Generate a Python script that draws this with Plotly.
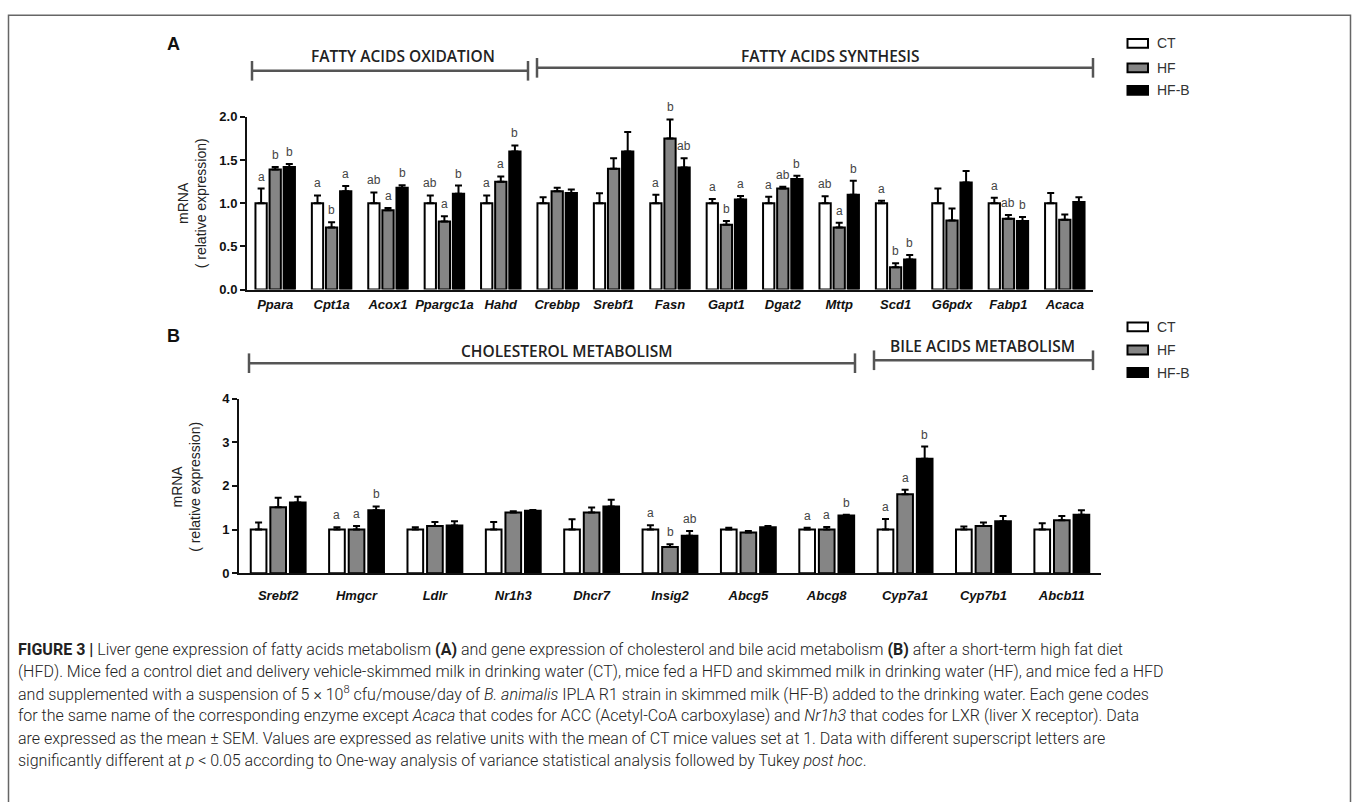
import plotly.graph_objects as go

# ---------------- data ----------------
series_names = ["CT", "HF", "HF-B"]

genes_A = ["Ppara", "Cpt1a", "Acox1", "Ppargc1a", "Hahd", "Crebbp", "Srebf1", "Fasn",
           "Gapt1", "Dgat2", "Mttp", "Scd1", "G6pdx", "Fabp1", "Acaca"]
ct_A = [1.0, 1.0, 1.0, 1.0, 1.0, 1.0, 1.0, 1.0, 1.0, 1.0, 1.0, 1.0, 1.0, 1.0, 1.0]
ct_A_err = [0.17, 0.09, 0.125, 0.09, 0.09, 0.07, 0.115, 0.10, 0.05, 0.075, 0.08, 0.03, 0.17, 0.065, 0.12]
hf_A = [1.39, 0.72, 0.92, 0.79, 1.25, 1.14, 1.40, 1.75, 0.75, 1.17, 0.72, 0.26, 0.80, 0.82, 0.81]
hf_A_err = [0.03, 0.06, 0.025, 0.06, 0.06, 0.04, 0.12, 0.22, 0.045, 0.02, 0.055, 0.045, 0.14, 0.045, 0.06]
hfb_A = [1.42, 1.14, 1.18, 1.11, 1.60, 1.12, 1.60, 1.415, 1.045, 1.28, 1.10, 0.35, 1.24, 0.795, 1.015]
hfb_A_err = [0.035, 0.06, 0.03, 0.095, 0.07, 0.04, 0.225, 0.105, 0.04, 0.04, 0.16, 0.05, 0.135, 0.045, 0.055]
ct_A_let = ["a", "a", "ab", "ab", "a", "", "", "a", "a", "a", "ab", "a", "", "a", ""]
hf_A_let = ["b", "b", "a", "a", "a", "", "", "b", "b", "ab", "a", "b", "", "ab", ""]
hfb_A_let = ["b", "a", "b", "b", "b", "", "", "ab", "a", "b", "b", "b", "", "b", ""]

genes_B = ["Srebf2", "Hmgcr", "Ldlr", "Nr1h3", "Dhcr7", "Insig2", "Abcg5", "Abcg8",
           "Cyp7a1", "Cyp7b1", "Abcb11"]
ct_B = [1.0, 1.0, 1.0, 1.0, 1.0, 1.0, 1.0, 1.0, 1.0, 1.0, 1.0]
ct_B_err = [0.16, 0.05, 0.05, 0.175, 0.235, 0.10, 0.04, 0.04, 0.24, 0.07, 0.145]
hf_B = [1.51, 1.0, 1.08, 1.39, 1.39, 0.60, 0.93, 1.0, 1.81, 1.08, 1.21]
hf_B_err = [0.22, 0.08, 0.09, 0.03, 0.115, 0.065, 0.035, 0.06, 0.10, 0.08, 0.10]
hfb_B = [1.62, 1.44, 1.09, 1.43, 1.53, 0.855, 1.055, 1.32, 2.62, 1.19, 1.34]
hfb_B_err = [0.13, 0.09, 0.10, 0.02, 0.155, 0.11, 0.025, 0.02, 0.28, 0.12, 0.10]
ct_B_let = ["", "a", "", "", "", "a", "", "a", "a", "", ""]
hf_B_let = ["", "a", "", "", "", "b", "", "a", "a", "", ""]
hfb_B_let = ["", "b", "", "", "", "ab", "", "b", "b", "", ""]

section_A = ["FATTY ACIDS OXIDATION", "FATTY ACIDS SYNTHESIS"]
section_B = ["CHOLESTEROL METABOLISM", "BILE ACIDS METABOLISM"]
yticks_A = [0.0, 0.5, 1.0, 1.5, 2.0]
yticks_B = [0, 1, 2, 3, 4]

caption_lines = [
    "<b>FIGURE 3 |</b> Liver gene expression of fatty acids metabolism <b>(A)</b> and gene expression of cholesterol and bile acid metabolism <b>(B)</b> after a short-term high fat diet",
    "(HFD). Mice fed a control diet and delivery vehicle-skimmed milk in drinking water (CT), mice fed a HFD and skimmed milk in drinking water (HF), and mice fed a HFD",
    "and supplemented with a suspension of 5 \u00d7 10<sup>8</sup> cfu/mouse/day of <i>B. animalis</i> IPLA R1 strain in skimmed milk (HF-B) added to the drinking water. Each gene codes",
    "for the same name of the corresponding enzyme except <i>Acaca</i> that codes for ACC (Acetyl-CoA carboxylase) and <i>Nr1h3</i> that codes for LXR (liver X receptor). Data",
    "are expressed as the mean \u00b1 SEM. Values are expressed as relative units with the mean of CT mice values set at 1. Data with different superscript letters are",
    "significantly different at <i>p</i> &lt; 0.05 according to One-way analysis of variance statistical analysis followed by Tukey <i>post hoc</i>.",
]

# ---------------- styling ----------------
W, H = 1358, 802
def px(x):
    return x / W
def py(y):
    return 1 - y / H

fills = ["white", "#858585", "black"]
AX = "#111111"
TXT = "#333333"
BR = "#555555"

fig = go.Figure()

panels = [
    (genes_A, [(ct_A, ct_A_err, ct_A_let), (hf_A, hf_A_err, hf_A_let), (hfb_A, hfb_A_err, hfb_A_let)], "x", "y"),
    (genes_B, [(ct_B, ct_B_err, ct_B_let), (hf_B, hf_B_err, hf_B_let), (hfb_B, hfb_B_err, hfb_B_let)], "x2", "y2"),
]

annotations = []
for genes, series, xa, ya in panels:
    for k, (vals, errs, lets) in enumerate(series):
        fig.add_trace(go.Bar(
            x=genes, y=vals, name=series_names[k], xaxis=xa, yaxis=ya,
            marker=dict(color=fills[k], line=dict(color="black", width=2)),
            error_y=dict(type="data", symmetric=False, array=errs,
                         arrayminus=[0] * len(errs), color="black", thickness=2, width=3.5),
            showlegend=False, hoverinfo="skip",
        ))
        off = (k - 1) * 0.25
        for i, (v, e, l) in enumerate(zip(vals, errs, lets)):
            if l:
                annotations.append(dict(
                    x=i + off, y=v + e, xref=xa, yref=ya, text=l, showarrow=False,
                    yanchor="bottom", yshift=3,
                    font=dict(family="Arial", size=12, color="#444444")))

fig.update_layout(
    width=W, height=H, margin=dict(l=0, r=0, t=0, b=0),
    paper_bgcolor="white", plot_bgcolor="white",
    barmode="group", bargap=0.25, bargroupgap=0.2,
    xaxis=dict(domain=[px(247), px(1093)], anchor="y", type="category", range=[-0.5, 14.5],
               showline=True, linecolor=AX, linewidth=2, ticks="", ticklen=0,
               showgrid=False, zeroline=False,
               tickfont=dict(family="Arial", size=13, color="#111", weight="bold", style="italic"),
               ticklabelstandoff=2),
    yaxis=dict(domain=[py(288), py(112)], anchor="x", range=[0, 2.0], tickvals=yticks_A,
               tickformat=".1f", showline=True, linecolor=AX, linewidth=2, ticks="outside",
               ticklen=5, tickwidth=2, tickcolor=AX, showgrid=False, zeroline=False,
               tickfont=dict(family="Arial", size=13, color="#111", weight="bold")),
    xaxis2=dict(domain=[px(239), px(1101)], anchor="y2", type="category", range=[-0.5, 10.5],
                showline=True, linecolor=AX, linewidth=2, ticks="", ticklen=0,
                showgrid=False, zeroline=False,
                tickfont=dict(family="Arial", size=13, color="#111", weight="bold", style="italic"),
                ticklabelstandoff=9),
    yaxis2=dict(domain=[py(577), py(399)], anchor="x2", range=[0, 4], tickvals=yticks_B,
                showline=True, linecolor=AX, linewidth=2, ticks="outside",
                ticklen=5, tickwidth=2, tickcolor=AX, showgrid=False, zeroline=False,
                tickfont=dict(family="Arial", size=13, color="#111", weight="bold")),
)

shapes = []
# outer frame
shapes.append(dict(type="rect", xref="paper", yref="paper", x0=px(8.5), x1=px(1350.5), y0=py(8.5), y1=py(815),
                   line=dict(color="#666666", width=1.5), fillcolor="rgba(0,0,0,0)", layer="below"))

def bracket(x0, x1, y, h=10):
    out = [dict(type="line", xref="paper", yref="paper", x0=px(x0), x1=px(x1), y0=py(y), y1=py(y),
                line=dict(color=BR, width=2.5))]
    for xx in (x0, x1):
        out.append(dict(type="line", xref="paper", yref="paper", x0=px(xx), x1=px(xx),
                        y0=py(y - h), y1=py(y + h), line=dict(color=BR, width=2.5)))
    return out

shapes += bracket(252, 528, 65)
shapes += bracket(537, 1093, 62)
shapes += bracket(249, 855, 363)
shapes += bracket(874, 1093, 360)

sec_font = dict(family="Open Sans", size=15.5, color="#222222", weight=600)
for txt, xc, yc in [(section_A[0], 403, 50), (section_A[1], 830, 50),
                    (section_B[0], 567, 351), (section_B[1], 982, 345)]:
    annotations.append(dict(x=px(xc), y=py(yc), xref="paper", yref="paper", text=txt,
                            showarrow=False, xanchor="center", yanchor="middle", font=sec_font))

# panel letters
for lab, xc, yc in [("A", 174, 38), ("B", 173, 335)]:
    annotations.append(dict(x=px(xc), y=py(yc), xref="paper", yref="paper", text=lab,
                            showarrow=False, xanchor="center", yanchor="middle",
                            font=dict(family="Arial", size=18, color="#111", weight="bold")))

# y axis titles
for xc, yc in [(192, 200), (186, 489)]:
    annotations.append(dict(x=px(xc), y=py(yc), xref="paper", yref="paper",
                            text="mRNA<br>( relative expression)", textangle=-90,
                            showarrow=False, xanchor="center", yanchor="middle",
                            font=dict(family="Arial", size=14, color="#222")))

# legends
for ys in ([37, 62, 85], [326, 349.5, 372.5]):
    for k, yc in enumerate(ys):
        shapes.append(dict(type="rect", xref="paper", yref="paper", x0=px(1127.5), x1=px(1148),
                           y0=py(yc - 4.5), y1=py(yc + 4.5), fillcolor=fills[k],
                           line=dict(color="black", width=2)))
        annotations.append(dict(x=px(1155), y=py(yc), xref="paper", yref="paper",
                                text=series_names[k], showarrow=False, xanchor="left",
                                yanchor="middle", font=dict(family="Arial", size=14, color=TXT)))

# caption
cap_y = [655, 677.5, 700, 722.5, 745, 767.5]
for line, yc in zip(caption_lines, cap_y):
    annotations.append(dict(x=px(16), y=py(yc), xref="paper", yref="paper", text=line,
                            showarrow=False, xanchor="left", yanchor="middle",
                            font=dict(family="Roboto", size=16, color="#222222", weight=300)))

fig.update_layout(shapes=shapes, annotations=annotations)
fig.write_html("out.html", config={"displayModeBar": False},
               post_script="document.body.style.margin='0';document.body.style.overflow='hidden';")
